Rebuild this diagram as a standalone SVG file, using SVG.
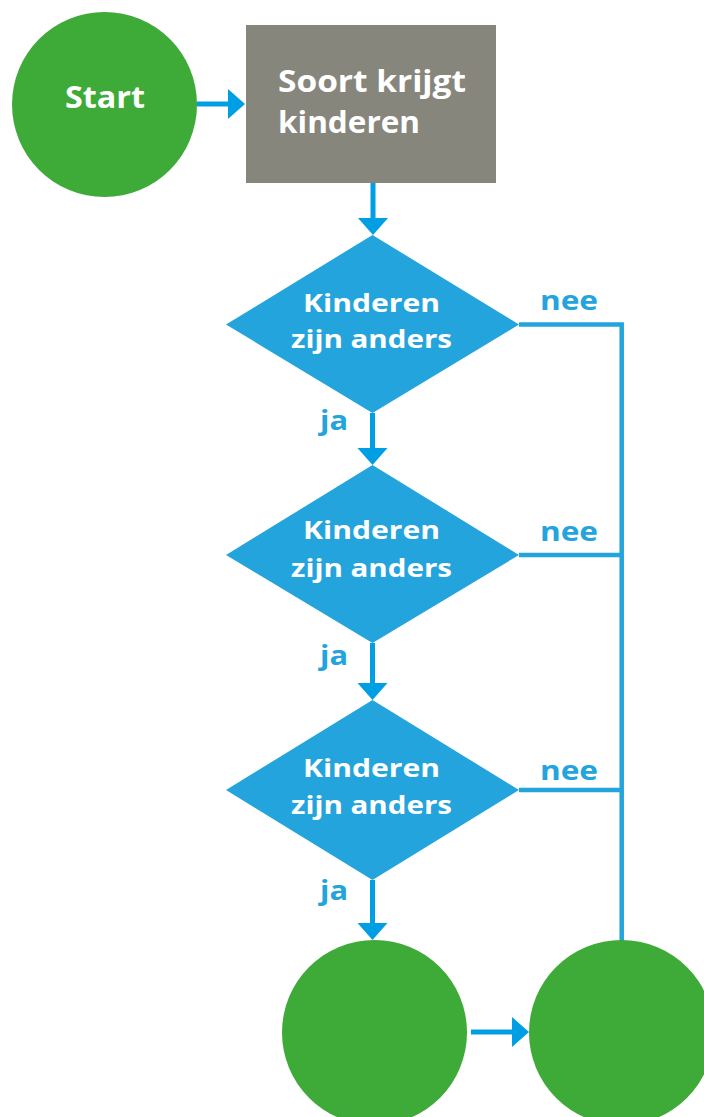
<svg xmlns="http://www.w3.org/2000/svg" width="704" height="1117" viewBox="0 0 704 1117">
<style>
.term{fill:#3eaa38}
.box{fill:#87867d}
.dec{fill:#23a4dc}
.lbl{font-family:"Open Sans",Lato,"Liberation Sans",sans-serif;font-weight:700;fill:#ffffff}
.ans{font-family:"Open Sans",Lato,"Liberation Sans",sans-serif;font-weight:700;fill:#23a4dc;font-size:26px}
.arr{stroke:#009fe3;stroke-width:5;fill:none;marker-end:url(#head)}
.no{stroke:#23a4dc;stroke-width:4.5;fill:none}
</style>
<defs>
<marker id="head" markerUnits="userSpaceOnUse" markerWidth="18" markerHeight="30" refX="0" refY="15" orient="auto" overflow="visible">
<path d="M0,0 L17,15 L0,30 Z" fill="#009fe3"/>
</marker>
</defs>
<rect width="704" height="1117" fill="#ffffff"/>
<g id="connectors">
<line class="arr" x1="197" y1="104" x2="228" y2="104"/>
<line class="arr" x1="373" y1="183" x2="373" y2="218"/>
<line class="arr" x1="372.5" y1="413" x2="372.5" y2="448"/>
<line class="arr" x1="372.5" y1="643" x2="372.5" y2="683"/>
<line class="arr" x1="372.5" y1="880" x2="372.5" y2="923"/>
<line class="arr" x1="471" y1="1032" x2="512" y2="1032"/>
<polyline class="no" points="519,324.5 621.7,324.5 621.7,941"/>
<line class="no" x1="519" y1="555" x2="621.7" y2="555"/>
<line class="no" x1="519" y1="790" x2="621.7" y2="790"/>
<text class="ans" x="540" y="310" textLength="58" lengthAdjust="spacingAndGlyphs">nee</text>
<text class="ans" x="540" y="541" textLength="58" lengthAdjust="spacingAndGlyphs">nee</text>
<text class="ans" x="540" y="780" textLength="58" lengthAdjust="spacingAndGlyphs">nee</text>
<text class="ans" x="320" y="430" textLength="28" lengthAdjust="spacingAndGlyphs">ja</text>
<text class="ans" x="320" y="665" textLength="28" lengthAdjust="spacingAndGlyphs">ja</text>
<text class="ans" x="320" y="900" textLength="28" lengthAdjust="spacingAndGlyphs">ja</text>
</g>
<g id="start">
<circle class="term" cx="104.5" cy="104.5" r="92.5"/>
<text class="lbl" x="65" y="108" font-size="31" textLength="80" lengthAdjust="spacingAndGlyphs">Start</text>
</g>
<g id="soort">
<rect class="box" x="246" y="25" width="250" height="158"/>
<text class="lbl" x="278" y="92" font-size="30" textLength="188" lengthAdjust="spacingAndGlyphs">Soort krijgt</text>
<text class="lbl" x="278" y="133" font-size="30" textLength="142" lengthAdjust="spacingAndGlyphs">kinderen</text>
</g>
<g id="decision1">
<polygon class="dec" points="372.5,235 519,324.5 372.5,413 226,324.5"/>
<text class="lbl" x="303" y="312" font-size="25.5" textLength="137" lengthAdjust="spacingAndGlyphs">Kinderen</text>
<text class="lbl" x="291" y="348" font-size="25.5" textLength="161" lengthAdjust="spacingAndGlyphs">zijn anders</text>
</g>
<g id="decision2">
<polygon class="dec" points="372.5,465 519,555 372.5,643 226,555"/>
<text class="lbl" x="303" y="539" font-size="25.5" textLength="137" lengthAdjust="spacingAndGlyphs">Kinderen</text>
<text class="lbl" x="291" y="577" font-size="25.5" textLength="161" lengthAdjust="spacingAndGlyphs">zijn anders</text>
</g>
<g id="decision3">
<polygon class="dec" points="372.5,700 519,790 372.5,880 226,790"/>
<text class="lbl" x="303" y="777" font-size="25.5" textLength="137" lengthAdjust="spacingAndGlyphs">Kinderen</text>
<text class="lbl" x="291" y="814" font-size="25.5" textLength="161" lengthAdjust="spacingAndGlyphs">zijn anders</text>
</g>
<g id="end1">
<circle class="term" cx="374.5" cy="1032.5" r="92.5"/>
</g>
<g id="end2">
<circle class="term" cx="621.5" cy="1032.5" r="92.5"/>
</g>
</svg>
